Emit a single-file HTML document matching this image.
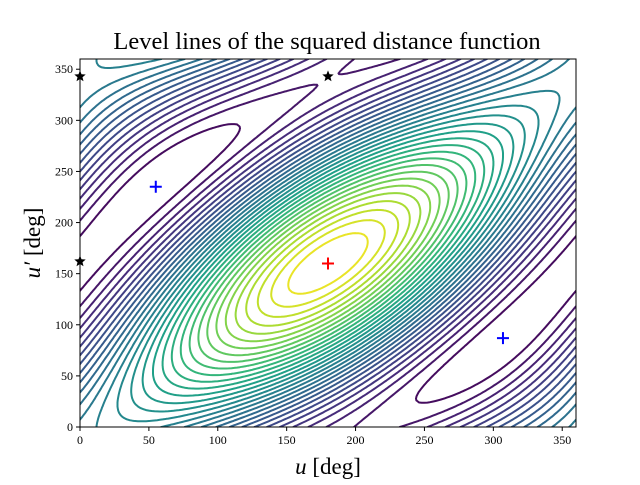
<!DOCTYPE html>
<html><head><meta charset="utf-8"><style>
body{margin:0;background:#fff}
svg text{font-family:"Liberation Serif",serif;fill:#000}
</style></head><body>
<svg id="chart" width="640" height="480" viewBox="0 0 640 480" xmlns="http://www.w3.org/2000/svg">
<defs><clipPath id="clip"><rect x="80" y="59" width="496" height="368"/></clipPath></defs>
<rect x="0" y="0" width="640" height="480" fill="#fff"/>
<g id="contours" clip-path="url(#clip)"></g>
<g id="markers"></g>
<rect x="80" y="59" width="496" height="368" fill="none" stroke="#000" stroke-width="1"/>
<g id="ticks"></g>
<text x="327" y="49" font-size="24.5" text-anchor="middle">Level lines of the squared distance function</text>
<text x="328" y="474" font-size="23" text-anchor="middle"><tspan font-style="italic">u</tspan> [deg]</text>
<text transform="translate(40,243) rotate(-90)" font-size="23" text-anchor="middle"><tspan font-style="italic">u′</tspan> [deg]</text>
</svg>
<script>
const xTicks=[0,50,100,150,200,250,300,350];
const yTicks=[0,50,100,150,200,250,300,350];
const centerU=[180], centerV=[160];
const coefA=[0.46], coefB=[0.38], coefK=[1.0];
const nLevels=[32];
const crossBlue=[[55,235],[307,87]];
const crossRed=[[180,160]];
const stars=[[0,343],[180,343],[0,162]];

const X0=80,X1=576,Y0=427,Y1=59;
const sx=v=>X0+v*(X1-X0)/360, sy=v=>Y0-v*(Y0-Y1)/360;
const NS="http://www.w3.org/2000/svg";
function mk(t,a,p){const e=document.createElementNS(NS,t);for(const k in a)e.setAttribute(k,a[k]);p.appendChild(e);return e;}
const R=Math.PI/180;
function f(u,v){const x=(u-centerU[0])*R,y=(v-centerV[0])*R;return coefA[0]*Math.cos(x)+coefB[0]*Math.cos(y)+coefK[0]*Math.cos(x-y);}
const vir=[[68,1,84],[72,40,120],[62,74,137],[49,104,142],[38,130,142],[31,158,137],[53,183,121],[110,206,88],[181,222,43],[253,231,37]];
function cmap(t){t=Math.max(0,Math.min(1,t))*(vir.length-1);const i=Math.min(vir.length-2,Math.floor(t)),r=t-i;const c=vir[i].map((a,j)=>Math.round(a+(vir[i+1][j]-a)*r));return `rgb(${c})`;}
const N=180,G=[];let mn=1e9,mx=-1e9;
for(let i=0;i<=N;i++){G.push([]);for(let j=0;j<=N;j++){const val=f(i*360/N,j*360/N);G[i].push(val);mn=Math.min(mn,val);mx=Math.max(mx,val);}}
const cg=document.getElementById('contours');
const L=nLevels[0];
for(let l=1;l<L;l++){
  const lv=mn+(mx-mn)*l/L;let d="";
  const P=(i,j,i2,j2)=>{const a=G[i][j],b=G[i2][j2],t=(lv-a)/(b-a);const u=(i+(i2-i)*t)*360/N,v=(j+(j2-j)*t)*360/N;return sx(u).toFixed(1)+","+sy(v).toFixed(1);};
  for(let i=0;i<N;i++)for(let j=0;j<N;j++){
    const e=[];
    if((G[i][j]>lv)!=(G[i+1][j]>lv))e.push(P(i,j,i+1,j));
    if((G[i+1][j]>lv)!=(G[i+1][j+1]>lv))e.push(P(i+1,j,i+1,j+1));
    if((G[i][j+1]>lv)!=(G[i+1][j+1]>lv))e.push(P(i,j+1,i+1,j+1));
    if((G[i][j]>lv)!=(G[i][j+1]>lv))e.push(P(i,j,i,j+1));
    if(e.length>=2)d+="M"+e[0]+"L"+e[1];
    if(e.length==4)d+="M"+e[2]+"L"+e[3];
  }
  const p=mk('path',{d:d,fill:'none',stroke:cmap(l/L),'stroke-width':2,'stroke-linecap':'round'},cg);
  
  
}
const mg=document.getElementById('markers');
function cross(pt,col,name){const x=sx(pt[0]),y=sy(pt[1]);const p=mk('path',{d:`M${x-6},${y}H${x+6}M${x},${y-6}V${y+6}`,stroke:col,'stroke-width':2},mg);

}
crossBlue.forEach(pt=>cross(pt,'#0000ff','minimum-marker'));
crossRed.forEach(pt=>cross(pt,'#ff0000','maximum-marker'));
stars.forEach(pt=>{const x=sx(pt[0]),y=sy(pt[1]);let d="";for(let k=0;k<10;k++){const r=k%2?2.6:6,a=-Math.PI/2+k*Math.PI/5;d+=(k?"L":"M")+(x+r*Math.cos(a)).toFixed(1)+","+(y+r*Math.sin(a)).toFixed(1);}
const s=mk('path',{d:d+"Z",fill:'#000'},mg);

});
const tg=document.getElementById('ticks');
xTicks.forEach(v=>{const x=sx(v);const l=mk('line',{x1:x,x2:x,y1:Y0,y2:Y0+4,stroke:'#000'},tg);


const t=mk('text',{x:x,y:Y0+17,'font-size':12,'text-anchor':'middle'},tg);t.textContent=v;

});
yTicks.forEach(v=>{const y=sy(v);const l=mk('line',{x1:X0-4,x2:X0,y1:y,y2:y,stroke:'#000'},tg);


const t=mk('text',{x:X0-7,y:y+4,'font-size':12,'text-anchor':'end'},tg);t.textContent=v;

});
</script>
</body></html>
